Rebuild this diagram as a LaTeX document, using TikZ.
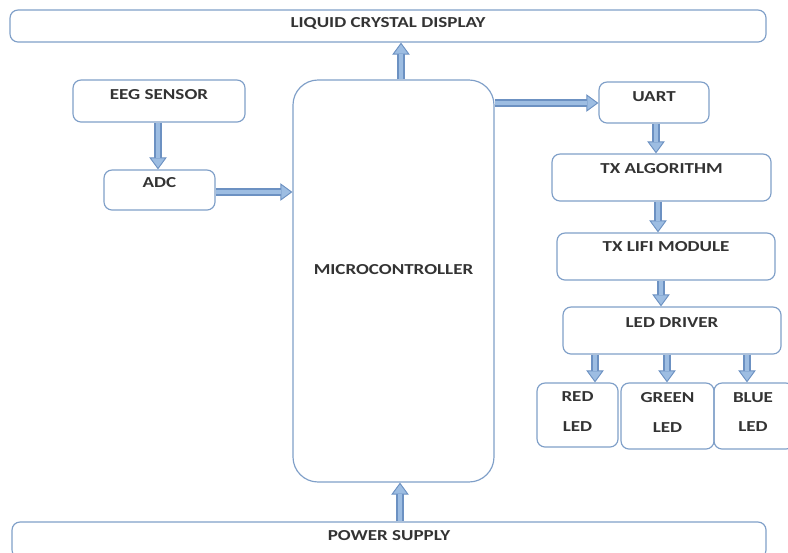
\documentclass[tikz,border=0pt]{standalone}
\usepackage{fontspec}
\setmainfont{Carlito}[FakeStretch=1.25]
\usetikzlibrary{positioning,fit,arrows.meta}
\definecolor{boxline}{HTML}{7F9FC8}
\definecolor{arrowfill}{HTML}{9DBDE2}
\definecolor{arrowline}{HTML}{6C91C2}

\begin{document}
\begin{tikzpicture}[x=0.03cm,y=-0.03cm,
    box/.style={draw=boxline, line width=1pt, rounded corners=0.24cm, inner sep=0pt},
    lbl/.style={font=\fontsize{13}{15}\selectfont\bfseries, text=black!80},
    twolbl/.style={font=\fontsize{13}{25.5}\selectfont\bfseries, text=black!80, align=center},
    flow/.style={line width=0.22cm, draw=arrowline,
        -{Triangle[length=0.36cm,width=0.52cm,line width=0.8pt,fill=arrowfill]},
        postaction={draw=arrowfill, line width=0.13cm, -, shorten >=0.34cm}}]
    \useasboundingbox (0,0) rectangle (788,552);

    % Blocks
    \node[box, fit={(10,10) (766,42)}] (lcd) {};
    \node[box, fit={(73,80) (245,122)}] (eeg) {};
    \node[box, fit={(104,170) (215,210)}] (adc) {};
    \node[box, rounded corners=0.75cm, fit={(293,80) (494,482)}] (micro) {};
    \node[box, fit={(599,82) (709,123)}] (uart) {};
    \node[box, fit={(552,154) (771,201)}] (txalg) {};
    \node[box, fit={(557,233) (775,280)}] (lifi) {};
    \node[box, fit={(563,307) (781,354)}] (driver) {};
    \node[box, fit={(537,383) (618,447)}] (red) {};
    \node[box, fit={(621,383) (714,449)}] (green) {};
    \node[box, fit={(714,383) (794,449)}] (blue) {};
    \node[box, fit={(12,522) (766,558)}] (power) {};

    % Labels
    \node[lbl] (lcdtxt) at ([yshift=-0.42cm]lcd.north) {LIQUID CRYSTAL DISPLAY};
    \node[lbl] (eegtxt) at ([yshift=-0.45cm]eeg.north) {EEG SENSOR};
    \node[lbl] (adctxt) at ([yshift=-0.4cm]adc.north) {ADC};
    \node[lbl] (microtxt) at (393.5,270) {MICROCONTROLLER};
    \node[lbl] (uarttxt) at ([yshift=-0.45cm]uart.north) {UART};
    \node[lbl] (txalgtxt) at ([yshift=-0.45cm]txalg.north) {TX ALGORITHM};
    \node[lbl] (lifitxt) at ([yshift=-0.42cm]lifi.north) {TX LIFI MODULE};
    \node[lbl] (drivertxt) at ([yshift=-0.48cm]driver.north) {LED DRIVER};
    \node[twolbl] (redtxt) at ([yshift=-0.87cm]red.north) {RED\\LED};
    \node[twolbl] (greentxt) at ([yshift=-0.9cm]green.north) {GREEN\\LED};
    \node[twolbl] (bluetxt) at (753,412) {BLUE\\LED};
    \node[lbl] (powertxt) at ([yshift=-0.42cm]power.north) {POWER SUPPLY};

    % Connections
    \draw[flow] (micro.north -| 401,0) -- (lcd.south -| 401,0);
    \draw[flow] (micro.east |- 0,103) -- (uart.west |- 0,103);
    \draw[flow] (eeg.south -| 158,0) -- (adc.north -| 158,0);
    \draw[flow] (adc.east |- 0,192) -- (micro.west |- 0,192);
    \draw[flow] (uart.south -| 656,0) -- (txalg.north -| 656,0);
    \draw[flow] (txalg.south -| 658,0) -- (lifi.north -| 658,0);
    \draw[flow] (lifi.south -| 661,0) -- (driver.north -| 661,0);
    \draw[flow] (driver.south -| 595,0) -- (red.north -| 595,0);
    \draw[flow] (driver.south -| 667,0) -- (green.north -| 667,0);
    \draw[flow] (driver.south -| 747,0) -- (blue.north -| 747,0);
    \draw[flow] (power.north -| 400,0) -- (micro.south -| 400,0);
\end{tikzpicture}
\end{document}
